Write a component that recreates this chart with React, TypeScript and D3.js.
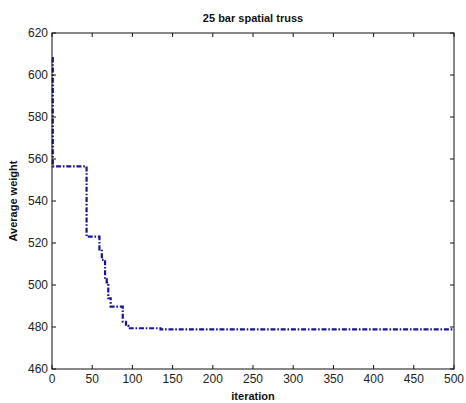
import React from "react";
import * as d3 from "d3";

const iterations = [0, 1, 43, 59, 62, 66, 68, 70, 73, 88, 92, 95, 135, 500];
const avgWeight = [608, 556.5, 523, 517, 512, 502.8, 501.2, 493.7, 489.7, 482.5, 480.5, 479.4, 478.9, 478.9];
const xTicks = [0, 50, 100, 150, 200, 250, 300, 350, 400, 450, 500];
const yTicks = [460, 480, 500, 520, 540, 560, 580, 600, 620];
const title = "25 bar spatial truss";
const xLabel = "iteration";
const yLabel = "Average weight";

export default function App() {
  const W = 466, H = 403;
  const L = 52, R = 454, T = 33, B = 369;
  const x = d3.scaleLinear().domain([0, 500]).range([L, R]);
  const y = d3.scaleLinear().domain([460, 620]).range([B, T]);
  const line = d3
    .line<number>()
    .x((_, i) => x(iterations[i]))
    .y((d) => y(d))
    .curve(d3.curveStepAfter);
  const path = line(avgWeight) || "";
  const font = "Arial, 'Liberation Sans', sans-serif";
  const tl = 4;
  return (
    <svg
      width={W}
      height={H}
      style={{ position: "absolute", left: 0, top: 0, background: "#fff" }}
    >
      <rect x={0} y={0} width={W} height={H} fill="#fff" />
      <text x={(L + R) / 2} y={22} textAnchor="middle" fontFamily={font} fontWeight="bold" fontSize={11} fill="#111">
        {title}
      </text>
      <path d={path} fill="none" stroke="#1414a0" strokeWidth={2.2} strokeDasharray="5,1.8,1.6,1.8" />
      <rect x={L} y={T} width={R - L} height={B - T} fill="none" stroke="#111" strokeWidth={1} />
      {xTicks.map((t) => (
        <g key={"x" + t}>
          <line x1={x(t)} x2={x(t)} y1={B} y2={B - tl} stroke="#111" />
          <line x1={x(t)} x2={x(t)} y1={T} y2={T + tl} stroke="#111" />
          <text x={x(t)} y={383} textAnchor="middle" fontFamily={font} fontSize={12} fill="#222">
            {t}
          </text>
        </g>
      ))}
      {yTicks.map((t) => (
        <g key={"y" + t}>
          <line x1={L} x2={L + tl} y1={y(t)} y2={y(t)} stroke="#111" />
          <line x1={R} x2={R - tl} y1={y(t)} y2={y(t)} stroke="#111" />
          <text x={48} y={y(t) + 4} textAnchor="end" fontFamily={font} fontSize={12} fill="#222">
            {t}
          </text>
        </g>
      ))}
      <text x={(L + R) / 2} y={400} textAnchor="middle" fontFamily={font} fontWeight="bold" fontSize={11} fill="#111">
        {xLabel}
      </text>
      <text
        transform={`translate(17, ${(T + B) / 2}) rotate(-90)`}
        textAnchor="middle"
        fontFamily={font}
        fontWeight="bold"
        fontSize={11}
        fill="#111"
      >
        {yLabel}
      </text>
    </svg>
  );
}
